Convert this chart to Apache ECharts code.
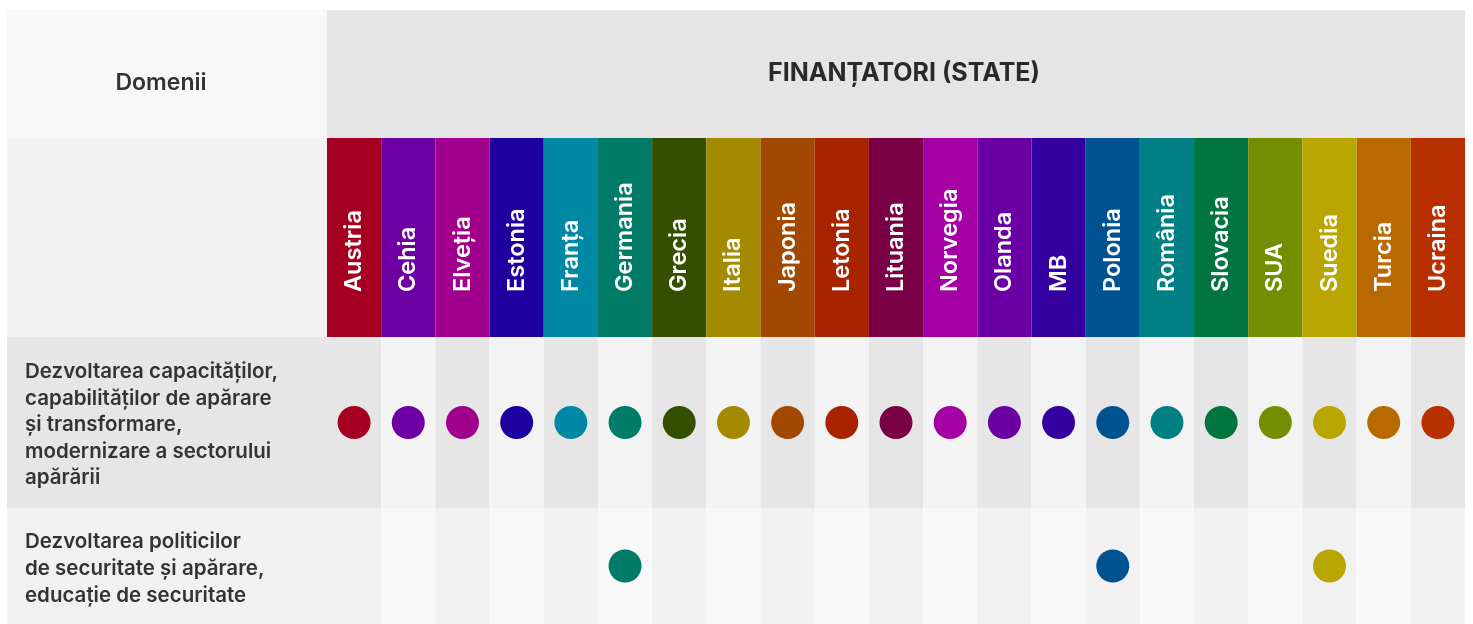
<!DOCTYPE html>
<html>
<head>
<meta charset="utf-8">
<script src="https://cdn.jsdelivr.net/npm/echarts@6/dist/echarts.min.js"></script>
<style>
  html, body { margin: 0; padding: 0; background: #fff; }
  #chart { width: 1473px; height: 624px; }
</style>
</head>
<body>
<div id="chart"></div>
<script>
// finanțatori (state)
const countries = ['Austria', 'Cehia', 'Elveția', 'Estonia', 'Franța', 'Germania', 'Grecia', 'Italia', 'Japonia', 'Letonia',
  'Lituania', 'Norvegia', 'Olanda', 'MB', 'Polonia', 'România', 'Slovacia', 'SUA', 'Suedia', 'Turcia', 'Ucraina'];
const countryColors = ['#a50021', '#6e00a3', '#a1008c', '#1e00a0', '#0088a5', '#007b68', '#344f00', '#a38a00', '#a34800', '#a82300',
  '#7a0045', '#a400a3', '#6a00a4', '#3400a0', '#005390', '#008085', '#00753f', '#738e00', '#b9a600', '#b86a00', '#b83000'];

// domenii
const domain1 = 'Dezvoltarea capacităților,\ncapabilităților de apărare\nși transformare,\nmodernizare a sectorului\napărării';
const domain2 = 'Dezvoltarea politicilor\nde securitate și apărare,\neducație de securitate';

// which funders are active in each domain
const domain1Funders = countries.slice();
const domain2Funders = ['Germania', 'Polonia', 'Suedia'];

const colorOf = (name) => countryColors[countries.indexOf(name)];

const hiddenCatX = (idx, stripes) => ({
  type: 'category',
  gridIndex: idx,
  data: countries,
  boundaryGap: true,
  axisLine: { show: false },
  axisTick: { show: false },
  axisLabel: { show: false },
  splitLine: { show: false },
  splitArea: stripes ? { show: true, interval: 0, areaStyle: { color: stripes } } : { show: false }
});

const option = {
  animation: false,
  backgroundColor: '#ffffff',
  grid: [
    { left: 327, top: 138, width: 1138, height: 199 },
    { left: 327, top: 337, width: 1138, height: 171 },
    { left: 327, top: 508, width: 1138, height: 116 }
  ],
  xAxis: [
    hiddenCatX(0, null),
    hiddenCatX(1, ['#e6e6e6', '#f3f3f3']),
    hiddenCatX(2, ['#f1f1f1', '#f8f8f8'])
  ],
  yAxis: [
    { type: 'value', gridIndex: 0, min: 0, max: 1, show: false },
    { type: 'category', gridIndex: 1, data: ['d1'], show: false },
    { type: 'category', gridIndex: 2, data: ['d2'], show: false }
  ],
  graphic: [
    { type: 'rect', shape: { x: 7, y: 10, width: 320, height: 128 }, style: { fill: '#f8f8f8' }, z: -10 },
    { type: 'rect', shape: { x: 327, y: 10, width: 1138, height: 128 }, style: { fill: '#e5e5e5' }, z: -10 },
    { type: 'rect', shape: { x: 7, y: 138, width: 320, height: 199 }, style: { fill: '#f2f2f2' }, z: -10 },
    { type: 'rect', shape: { x: 7, y: 337, width: 320, height: 171 }, style: { fill: '#e6e6e6' }, z: -10 },
    { type: 'rect', shape: { x: 7, y: 508, width: 320, height: 116 }, style: { fill: '#f1f1f1' }, z: -10 },
    {
      type: 'text', x: 161, y: 83,
      style: { text: 'Domenii', fill: '#333', font: '600 23px Inter', textAlign: 'center', textVerticalAlign: 'middle' }
    },
    {
      type: 'text', x: 904, y: 73,
      style: { text: 'FINANȚATORI (STATE)', fill: '#2a2a2a', font: '700 25px Inter', textAlign: 'center', textVerticalAlign: 'middle' }
    },
    {
      type: 'text', x: 25, y: 425,
      style: { text: domain1, fill: '#333', font: '600 20.5px Inter', lineHeight: 26.6, textAlign: 'left', textVerticalAlign: 'middle' }
    },
    {
      type: 'text', x: 25, y: 569,
      style: { text: domain2, fill: '#333', font: '600 20.5px Inter', lineHeight: 27, textAlign: 'left', textVerticalAlign: 'middle' }
    }
  ],
  series: [
    {
      type: 'bar',
      xAxisIndex: 0,
      yAxisIndex: 0,
      barWidth: '100%',
      data: countries.map((c, i) => ({ value: 1, itemStyle: { color: countryColors[i] } })),
      label: {
        show: true,
        formatter: '{b}',
        position: 'insideBottom',
        distance: 45,
        rotate: 90,
        align: 'left',
        verticalAlign: 'middle',
        color: '#fff',
        fontFamily: 'Inter',
        fontWeight: 600,
        fontSize: 23.5
      }
    },
    {
      type: 'scatter',
      xAxisIndex: 1,
      yAxisIndex: 1,
      symbolSize: 33,
      itemStyle: { opacity: 1 },
      data: domain1Funders.map(c => ({ value: [c, 'd1'], itemStyle: { color: colorOf(c) } }))
    },
    {
      type: 'scatter',
      xAxisIndex: 2,
      yAxisIndex: 2,
      symbolSize: 33,
      itemStyle: { opacity: 1 },
      data: domain2Funders.map(c => ({ value: [c, 'd2'], itemStyle: { color: colorOf(c) } }))
    }
  ]
};

const chart = echarts.init(document.getElementById('chart'));
chart.setOption(option);
</script>
</body>
</html>
